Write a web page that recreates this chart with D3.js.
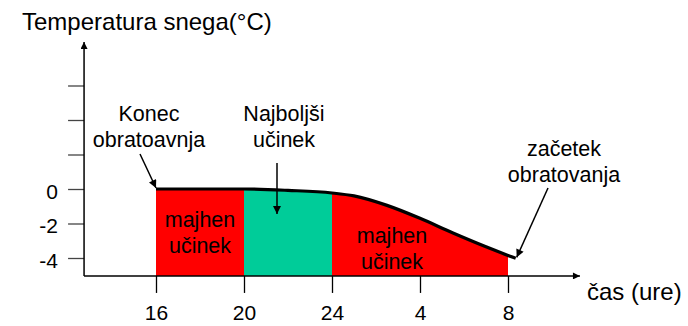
<!DOCTYPE html>
<html>
<head>
<meta charset="utf-8">
<script src="https://cdn.jsdelivr.net/npm/d3@7/dist/d3.min.js"></script>
<style>
  html, body { margin: 0; padding: 0; background: #fff; }
  svg { display: block; font-family: "Liberation Sans", Arial, sans-serif; }
</style>
</head>
<body>
<svg id="chart" width="688" height="326"></svg>
<script>
// Snow temperature through the night (hours counted continuously: 24 -> 28 means 4 h)
const hours = [16, 20, 22, 24, 25, 26.5, 28, 29.5, 31, 32, 32.35];
const temps = [0, 0, -0.08, -0.23, -0.4, -0.95, -1.7, -2.55, -3.35, -3.85, -4.02];

// Shaded effect zones
const zoneStart = [16, 20, 24];
const zoneEnd = [20, 24, 32];
const zoneColor = ["#ff0000", "#00cc99", "#ff0000"];

// Axis ticks
const xTickValues = [16, 20, 24, 28, 32];
const xTickLabels = ["16", "20", "24", "4", "8"];
const yTickValues = [-4, -2, 0, 2, 4, 6];
const yTickLabels = ["-4", "-2", "0", "", "", ""];

const svg = d3.select("#chart");

const x = d3.scaleLinear().domain([16, 32]).range([156, 508]);
const y = d3.scaleLinear().domain([-4, 6]).range([258, 85.5]);
const yBase = -5.04;          // value at the time axis
const xLeft = 12.73, xRight = 35.27;  // hour extent of the time axis

const defs = svg.append("defs");
function arrowMarker(id, w, h) {
  defs.append("marker")
    .attr("id", id)
    .attr("viewBox", "0 0 10 10")
    .attr("refX", 10).attr("refY", 5)
    .attr("markerWidth", w).attr("markerHeight", h)
    .attr("markerUnits", "userSpaceOnUse")
    .attr("orient", "auto")
    .append("path").attr("d", "M0,0 L10,5 L0,10 Z").attr("fill", "#000");
}
arrowMarker("axisArrow", 10, 7);
arrowMarker("noteArrow", 10, 8);

// Zone clip regions and filled areas under the curve
const area = d3.area()
  .x((d, i) => x(hours[i]))
  .y0(y(yBase))
  .y1((d, i) => y(temps[i]))
  .curve(d3.curveMonotoneX);

zoneStart.forEach((s, i) => {
  defs.append("clipPath").attr("id", "zone" + i)
    .append("rect")
    .attr("x", x(s)).attr("y", 0)
    .attr("width", x(zoneEnd[i]) - x(s))
    .attr("height", y(yBase));
  svg.append("path")
    .attr("d", area(temps))
    .attr("fill", zoneColor[i])
    .attr("clip-path", `url(#zone${i})`);
});

// Temperature curve
const line = d3.line()
  .x((d, i) => x(hours[i]))
  .y((d, i) => y(temps[i]))
  .curve(d3.curveMonotoneX);
svg.append("path")
  .attr("d", line(temps))
  .attr("fill", "none")
  .attr("stroke", "#000")
  .attr("stroke-width", 3.2)
  .attr("stroke-linejoin", "round");

// Y axis
const yAxis = d3.axisLeft(y)
  .tickValues(yTickValues)
  .tickSize(16)
  .tickPadding(10)
  .tickFormat((d, i) => yTickLabels[i]);
const gy = svg.append("g").attr("transform", `translate(${x(xLeft)},0)`).call(yAxis);
gy.select(".domain").remove();
gy.selectAll(".tick line").attr("stroke", "#444").attr("stroke-width", 1.3);
gy.selectAll(".tick text")
  .attr("font-size", 21).attr("fill", "#000")
  .attr("font-family", "Liberation Sans, Arial, sans-serif")
  .attr("dy", "0.45em");
svg.append("line")
  .attr("x1", x(xLeft)).attr("x2", x(xLeft))
  .attr("y1", y(yBase)).attr("y2", 42)
  .attr("stroke", "#000").attr("stroke-width", 1.5)
  .attr("marker-end", "url(#axisArrow)");

// X axis
const xAxis = d3.axisBottom(x)
  .tickValues(xTickValues)
  .tickSize(17)
  .tickPadding(12)
  .tickFormat((d, i) => xTickLabels[i]);
const gx = svg.append("g").attr("transform", `translate(0,${y(yBase)})`).call(xAxis);
gx.select(".domain").remove();
gx.selectAll(".tick line").attr("stroke", "#000").attr("stroke-width", 1.3);
gx.selectAll(".tick text")
  .attr("font-size", 21).attr("fill", "#000")
  .attr("font-family", "Liberation Sans, Arial, sans-serif");
svg.append("line")
  .attr("x1", x(xLeft)).attr("x2", x(xRight))
  .attr("y1", y(yBase)).attr("y2", y(yBase))
  .attr("stroke", "#000").attr("stroke-width", 1.5)
  .attr("marker-end", "url(#axisArrow)");

// Axis titles
svg.append("text").attr("x", 22).attr("y", 30)
  .attr("font-size", 24).text("Temperatura snega(°C)");
svg.append("text").attr("x", 587).attr("y", 300)
  .attr("font-size", 24).text("čas (ure)");

// Text blocks
function block(cx, baseline, lines, size) {
  const t = svg.append("text").attr("text-anchor", "middle").attr("font-size", size);
  lines.forEach((s, i) => {
    t.append("tspan").attr("x", cx).attr("y", baseline + i * 26).text(s);
  });
}
block(149, 121, ["Konec", "obratoavnja"], 21.5);
block(284, 121, ["Najboljši", "učinek"], 21.5);
block(564, 156, ["začetek", "obratovanja"], 21.5);
block(x(18), 227, ["majhen", "učinek"], 21.5);
block(392, 243, ["majhen", "učinek"], 21.5);

// Pointer arrows
function pointer(x1, y1, x2, y2) {
  svg.append("line")
    .attr("x1", x1).attr("y1", y1).attr("x2", x2).attr("y2", y2)
    .attr("stroke", "#000").attr("stroke-width", 1.5)
    .attr("marker-end", "url(#noteArrow)");
}
pointer(140, 154, x(16), y(0) - 1);
pointer(277, 163, 277, 214);
pointer(548, 188, x(hours[hours.length - 1]) + 1, y(temps[temps.length - 1]) - 1);
</script>
</body>
</html>
